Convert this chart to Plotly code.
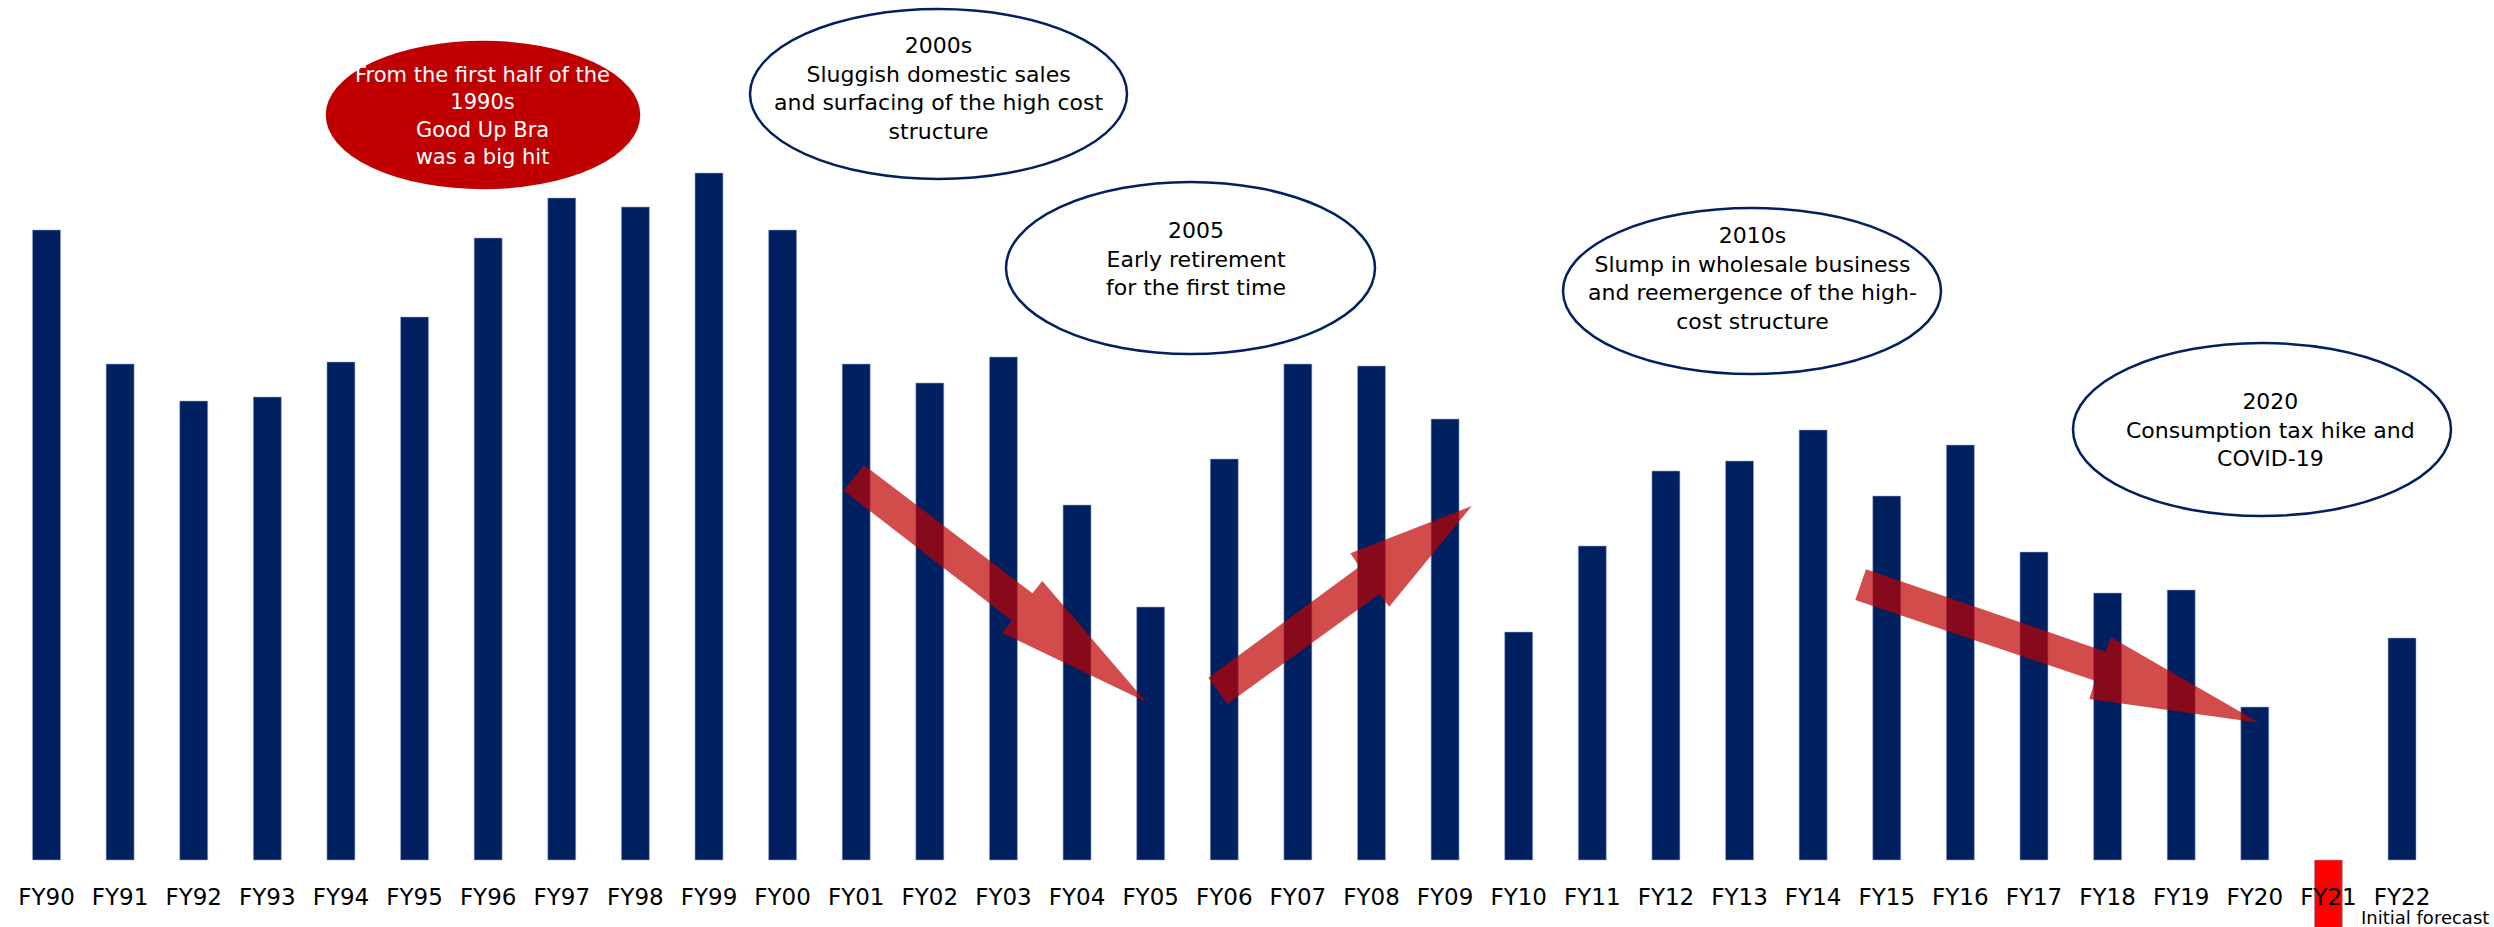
import plotly.graph_objects as go

# ---------------- data ----------------
fiscal_years = ["FY90", "FY91", "FY92", "FY93", "FY94", "FY95", "FY96", "FY97", "FY98", "FY99",
                "FY00", "FY01", "FY02", "FY03", "FY04", "FY05", "FY06", "FY07", "FY08", "FY09",
                "FY10", "FY11", "FY12", "FY13", "FY14", "FY15", "FY16", "FY17", "FY18", "FY19",
                "FY20", "FY21", "FY22"]
values = [63.0, 49.6, 45.9, 46.3, 49.8, 54.3, 62.2, 66.2, 65.3, 68.7,
          63.0, 49.6, 47.7, 50.3, 35.5, 25.3, 40.1, 49.6, 49.4, 44.1,
          22.8, 31.4, 38.9, 39.9, 43.0, 36.4, 41.5, 30.8, 26.7, 27.0,
          15.3, -20.0, 22.2]
loss_year = "FY21"
forecast_note = "Initial forecast"

callouts = [
    "From the first half of the<br>1990s<br>Good Up Bra<br>was a big hit",
    "2000s<br>Sluggish domestic sales<br>and surfacing of the high cost<br>structure",
    "2005<br>Early retirement<br>for the first time",
    "2010s<br>Slump in wholesale business<br>and reemergence of the high-<br>cost structure",
    "2020<br>Consumption tax hike and<br>COVID-19",
]

# ---------------- styling / layout ----------------
W, H = 2494, 927
NAVY = "rgb(0,32,96)"
FONT = "DejaVu Sans"

def px(x, y):
    return x / W, 1 - y / H

bar_colors = ["#FF0000" if fy == loss_year else NAVY for fy in fiscal_years]

fig = go.Figure()
fig.add_trace(go.Bar(
    x=fiscal_years, y=values,
    marker=dict(color=bar_colors, line=dict(color="rgba(150,170,210,0.7)", width=0.8)),
    width=0.38, hoverinfo="x+y",
))

step = 73.61
x0 = -46.5 / step
x1 = x0 + W / step
base_px = 860
y_scale = 10.0  # px per unit
ymax = base_px / y_scale
ymin = -(H - base_px) / y_scale

# ellipses: (x0, y0, x1, y1) in px, fill, line
ellipses = [
    ((327, 42, 639, 188), "#C00000", "#C00000"),
    ((750, 9, 1127, 179), "white", NAVY),
    ((1006, 182, 1375, 354), "white", NAVY),
    ((1563, 208, 1941, 374), "white", NAVY),
    ((2073, 343, 2451, 516), "white", NAVY),
]
text_pos = [(482, 116, "white", 21), (938, 88, "black", 22), (1196, 259, "black", 22),
            (1752, 278, "black", 22), (2270, 430, "black", 22)]

shapes = []
for (bx0, by0, bx1, by1), fill, line in ellipses:
    ax0, ay1 = px(bx0, by0)
    ax1, ay0 = px(bx1, by1)
    shapes.append(dict(type="circle", xref="paper", yref="paper",
                       x0=ax0, x1=ax1, y0=ay0, y1=ay1,
                       fillcolor=fill, line=dict(color=line, width=2.5), layer="above"))

arrows = [
    [(864, 465), (1032.5, 593.3), (1042.3, 581), (1145.9, 701.7), (1002, 632.7), (1012, 620.7), (843.7, 490.7)],
    [(1208.4, 677.7), (1359.3, 566.7), (1350.4, 553.3), (1471.8, 506), (1389.2, 606.7), (1379.4, 594), (1227.6, 704)],
    [(1866, 569.3), (2105.7, 651.7), (2111, 637.3), (2259.3, 722.7), (2089.3, 699), (2095, 680.7), (1855.3, 600)],
]
for pts in arrows:
    coords = [px(a, b) for a, b in pts]
    path = "M " + " L ".join(f"{a:.5f},{b:.5f}" for a, b in coords) + " Z"
    shapes.append(dict(type="path", xref="paper", yref="paper", path=path,
                       fillcolor="rgba(192,0,0,0.7)", line=dict(width=0), layer="above"))

annotations = []
for text, (tx, ty, col, fs) in zip(callouts, text_pos):
    ax, ay = px(tx, ty)
    annotations.append(dict(xref="paper", yref="paper", x=ax, y=ay, text=text, showarrow=False,
                            xanchor="center", yanchor="middle", align="center",
                            font=dict(family=FONT, size=fs, color=col)))
nx, ny = px(2425, 917)
annotations.append(dict(xref="paper", yref="paper", x=nx, y=ny, text=forecast_note, showarrow=False,
                        xanchor="center", yanchor="middle",
                        font=dict(family=FONT, size=18, color="black")))

fig.update_layout(
    width=W, height=H,
    margin=dict(l=0, r=0, t=0, b=0),
    paper_bgcolor="white", plot_bgcolor="white",
    showlegend=False,
    shapes=shapes, annotations=annotations,
    xaxis=dict(type="category", range=[x0, x1], anchor="free", position=1 - base_px / H,
               showgrid=False, zeroline=False, showline=False, ticks="",
               ticklabelstandoff=21,
               tickfont=dict(family=FONT, size=23, color="black")),
    yaxis=dict(range=[ymin, ymax], visible=False, showgrid=False, zeroline=False),
)

fig.write_html("out.html")
